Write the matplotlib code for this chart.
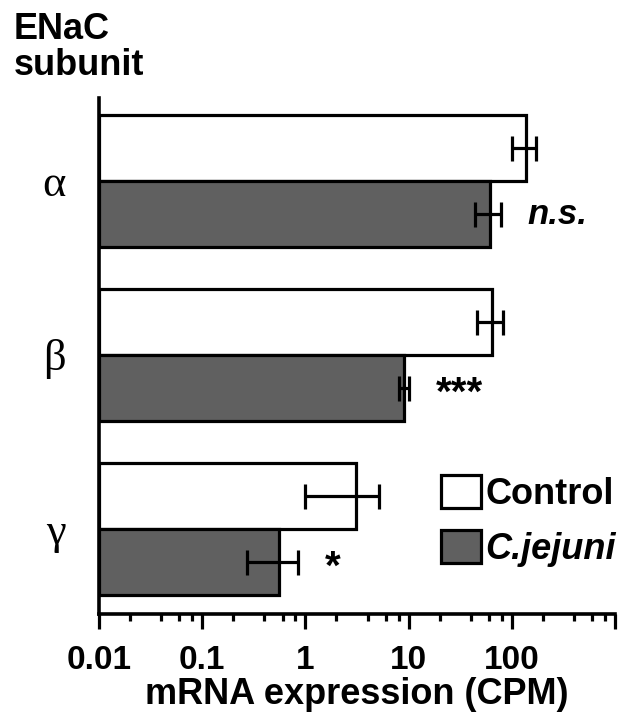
import matplotlib
matplotlib.use("Agg")
import matplotlib.pyplot as plt
from matplotlib.ticker import LogLocator, FixedLocator, FixedFormatter, NullFormatter
import numpy as np

subunits = ["α", "β", "γ"]
control_mean = [136, 64, 3.1]
control_err = [36, 17.5, 2.1]
cjejuni_mean = [61, 9.1, 0.56]
cjejuni_err = [17, 1.0, 0.29]
significance = ["n.s.", "***", "*"]
sig_italic = [True, False, False]
sig_size = [25, 29, 29]
sig_dy = [0, -4, -4]
xticks = [0.01, 0.1, 1, 10, 100, 1000]
xticklabels = ["0.01", "0.1", "1", "10", "100", ""]
series_names = ["Control", "C.jejuni"]

sans = ["Liberation Sans", "DejaVu Sans"]
plt.rcParams["font.family"] = sans

fig = plt.figure(figsize=(6.23, 7.14), dpi=100)
ax = fig.add_axes([99 / 623, 100 / 714, 516 / 623, 516 / 714])

y = np.arange(len(subunits))
h = 0.38
xmin = xticks[0]
lw = 2.3

ax.set_xscale("log")
b1 = ax.barh(y - h / 2, np.array(control_mean) - xmin, height=h, left=xmin,
             color="white", edgecolor="black", linewidth=lw, zorder=2)
b2 = ax.barh(y + h / 2, np.array(cjejuni_mean) - xmin, height=h, left=xmin,
             color="#606060", edgecolor="black", linewidth=lw, zorder=2)
ax.errorbar(control_mean, y - h / 2, xerr=control_err, fmt="none", ecolor="black",
            elinewidth=lw, capsize=9, capthick=lw, zorder=3)
ax.errorbar(cjejuni_mean, y + h / 2, xerr=cjejuni_err, fmt="none", ecolor="black",
            elinewidth=lw, capsize=9, capthick=lw, zorder=3)

for i, (m, e, s, it) in enumerate(zip(cjejuni_mean, cjejuni_err, significance, sig_italic)):
    ax.annotate(s, xy=(m + e, y[i] + h / 2), xytext=(19, sig_dy[i]), textcoords="offset points",
                ha="left", va="center", fontsize=sig_size[i], fontweight="bold",
                fontstyle="italic" if it else "normal")

ax.set_xlim(xticks[0], xticks[-1])
ax.set_ylim(len(subunits) - 1 + 0.489, -0.477)

ax.xaxis.set_major_locator(FixedLocator(xticks))
ax.xaxis.set_major_formatter(FixedFormatter(xticklabels))
ax.xaxis.set_minor_locator(LogLocator(base=10, subs=(2, 4, 6, 8)))
ax.xaxis.set_minor_formatter(NullFormatter())
ax.tick_params(axis="x", which="major", length=11, width=lw, pad=11, labelsize=24)
ax.tick_params(axis="x", which="minor", length=5, width=lw)
for lab in ax.get_xticklabels():
    lab.set_fontweight("bold")

ax.set_yticks(y)
ax.set_yticklabels(subunits, family=["Liberation Serif", "DejaVu Serif"], fontsize=32)
ax.tick_params(axis="y", length=0, pad=24)

for sp in ["top", "right"]:
    ax.spines[sp].set_visible(False)
for sp in ["left", "bottom"]:
    ax.spines[sp].set_linewidth(2.6)

ax.set_xlabel("mRNA expression (CPM)", fontsize=26, fontweight="bold", labelpad=1)

fig.text(14 / 623, 1 - 12 / 714, "ENaC\nsubunit", ha="left", va="top",
         fontsize=26, fontweight="bold", linespacing=1.05)

leg = ax.legend([b1, b2], series_names, loc="upper left",
                bbox_to_anchor=((441 - 99) / 516, (616 - 477) / 516),
                frameon=False, fontsize=26, handlelength=1.1, handleheight=1.03,
                handletextpad=0.12, labelspacing=0.5, borderpad=0, borderaxespad=0)
for t in leg.get_texts():
    t.set_fontweight("bold")
leg.get_texts()[1].set_fontstyle("italic")

fig.savefig("out.png", dpi=100)
